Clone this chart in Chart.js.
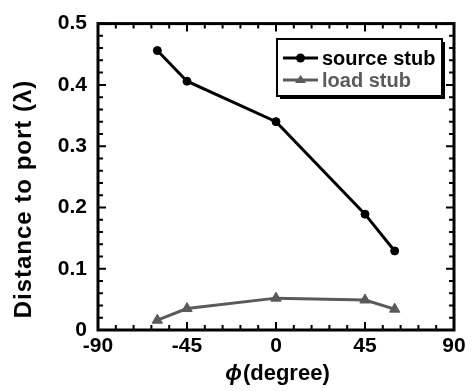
<!DOCTYPE html>
<html>
<head>
<meta charset="utf-8">
<script src="https://cdn.jsdelivr.net/npm/chart.js@4"></script>
<style>
  html, body { margin: 0; padding: 0; background: #fff; }
  #wrap { width: 472px; height: 391px; }
</style>
</head>
<body>
<div id="wrap"><canvas id="chart" width="472" height="391"></canvas></div>
<script>
var phi = [-60, -45, 0, 45, 60];
var sourceStub = [0.456, 0.406, 0.340, 0.189, 0.129];
var loadStub = [0.016, 0.035, 0.052, 0.049, 0.034];
var xTicks = [-90, -45, 0, 45, 90];
var yTicks = [0, 0.1, 0.2, 0.3, 0.4, 0.5];

var FONT = '"Liberation Sans", Arial, sans-serif';
var GREY = '#5a5a5a';

function pts(ys) {
  return phi.map(function (p, i) { return { x: p, y: ys[i] }; });
}

// frame, inward ticks, titles and legend
var decor = {
  id: 'decor',
  afterDraw: function (chart) {
    var c = chart.ctx, a = chart.chartArea;
    var xs = chart.scales.x, ys = chart.scales.y;
    c.save();
    c.strokeStyle = '#000';
    c.lineWidth = 3;
    c.strokeRect(a.left, a.top, a.right - a.left, a.bottom - a.top);

    c.lineWidth = 2;
    c.beginPath();
    for (var v = -90; v <= 90; v += 9) {
      var px = xs.getPixelForValue(v);
      var len = (v % 45 === 0) ? 8 : 5;
      c.moveTo(px, a.bottom); c.lineTo(px, a.bottom - len);
      c.moveTo(px, a.top); c.lineTo(px, a.top + len);
    }
    for (var k = 0; k <= 25; k++) {
      var py = ys.getPixelForValue(k * 0.02);
      var l2 = (k % 5 === 0) ? 8 : 5;
      c.moveTo(a.left, py); c.lineTo(a.left + l2, py);
      c.moveTo(a.right, py); c.lineTo(a.right - l2, py);
    }
    c.stroke();

    // y title
    c.fillStyle = '#000';
    c.font = 'bold 24px ' + FONT;
    c.textAlign = 'center';
    c.textBaseline = 'middle';
    c.save();
    c.translate(24, 199);
    c.rotate(-Math.PI / 2);
    c.letterSpacing = '1px';
    c.fillText('Distance to port (\u03BB)', 0, 0);
    c.restore();

    // x title
    c.textAlign = 'left';
    c.font = 'italic bold 22px ' + FONT;
    var phiW = c.measureText('\u03D5').width;
    c.font = 'bold 22px ' + FONT;
    var restW = c.measureText('(degree)').width;
    var x0 = 277 - (phiW + restW) / 2;
    c.font = 'italic bold 22px ' + FONT;
    c.fillText('\u03D5', x0, 374);
    c.font = 'bold 22px ' + FONT;
    c.fillText('(degree)', x0 + phiW + 1, 374);

    // legend
    var bx = 277, by = 39, bw = 165, bh = 57;
    c.fillStyle = '#000';
    c.fillRect(bx + 3, by + 3, bw, bh);
    c.fillStyle = '#fff';
    c.fillRect(bx, by, bw, bh);
    c.lineWidth = 2;
    c.strokeStyle = '#000';
    c.strokeRect(bx, by, bw, bh);
    var rows = [
      { label: 'source stub', color: '#000', tri: false, y: by + 19 },
      { label: 'load stub', color: GREY, tri: true, y: by + 41 }
    ];
    rows.forEach(function (r) {
      c.strokeStyle = r.color;
      c.fillStyle = r.color;
      c.lineWidth = 3;
      c.beginPath();
      c.moveTo(bx + 6, r.y); c.lineTo(bx + 41, r.y);
      c.stroke();
      c.beginPath();
      if (r.tri) {
        c.moveTo(bx + 23.5, r.y - 5); c.lineTo(bx + 29, r.y + 3); c.lineTo(bx + 18, r.y + 3);
        c.closePath();
      } else {
        c.arc(bx + 23.5, r.y, 4.5, 0, Math.PI * 2);
      }
      c.fill();
      c.font = 'bold 20px ' + FONT;
      c.textAlign = 'left';
      c.textBaseline = 'middle';
      c.fillText(r.label, bx + 45, r.y + 1);
    });
    c.restore();
  }
};

new Chart(document.getElementById('chart'), {
  type: 'scatter',
  data: {
    datasets: [
      {
        label: 'source stub',
        data: pts(sourceStub),
        showLine: true,
        borderColor: '#000',
        backgroundColor: '#000',
        borderWidth: 3,
        pointStyle: 'circle',
        pointRadius: 4,
        pointBorderWidth: 1,
        pointHoverRadius: 4
      },
      {
        label: 'load stub',
        data: pts(loadStub),
        showLine: true,
        borderColor: GREY,
        backgroundColor: GREY,
        borderWidth: 3,
        pointStyle: 'triangle',
        pointRadius: 6,
        pointBorderWidth: 1,
        pointHoverRadius: 6
      }
    ]
  },
  options: {
    responsive: false,
    animation: false,
    layout: { padding: { top: 22, right: 18, left: 0, bottom: 0 } },
    plugins: { legend: { display: false }, tooltip: { enabled: false } },
    scales: {
      x: {
        type: 'linear',
        min: -90, max: 90,
        afterFit: function (s) { s.height = 61; },
        afterBuildTicks: function (s) { s.ticks = xTicks.map(function (v) { return { value: v }; }); },
        grid: { display: false, drawTicks: false },
        border: { display: false },
        ticks: { color: '#000', font: { family: FONT, size: 21, weight: 'bold' }, padding: 4, maxRotation: 0 }
      },
      y: {
        type: 'linear',
        min: 0, max: 0.5,
        afterFit: function (s) { s.width = 98; },
        afterBuildTicks: function (s) { s.ticks = yTicks.map(function (v) { return { value: v }; }); },
        grid: { display: false, drawTicks: false },
        border: { display: false },
        ticks: {
          color: '#000', font: { family: FONT, size: 21, weight: 'bold' }, padding: 11,
          callback: function (v) { return v === 0 ? '0' : v.toFixed(1); }
        }
      }
    }
  },
  plugins: [decor]
});
</script>
</body>
</html>
